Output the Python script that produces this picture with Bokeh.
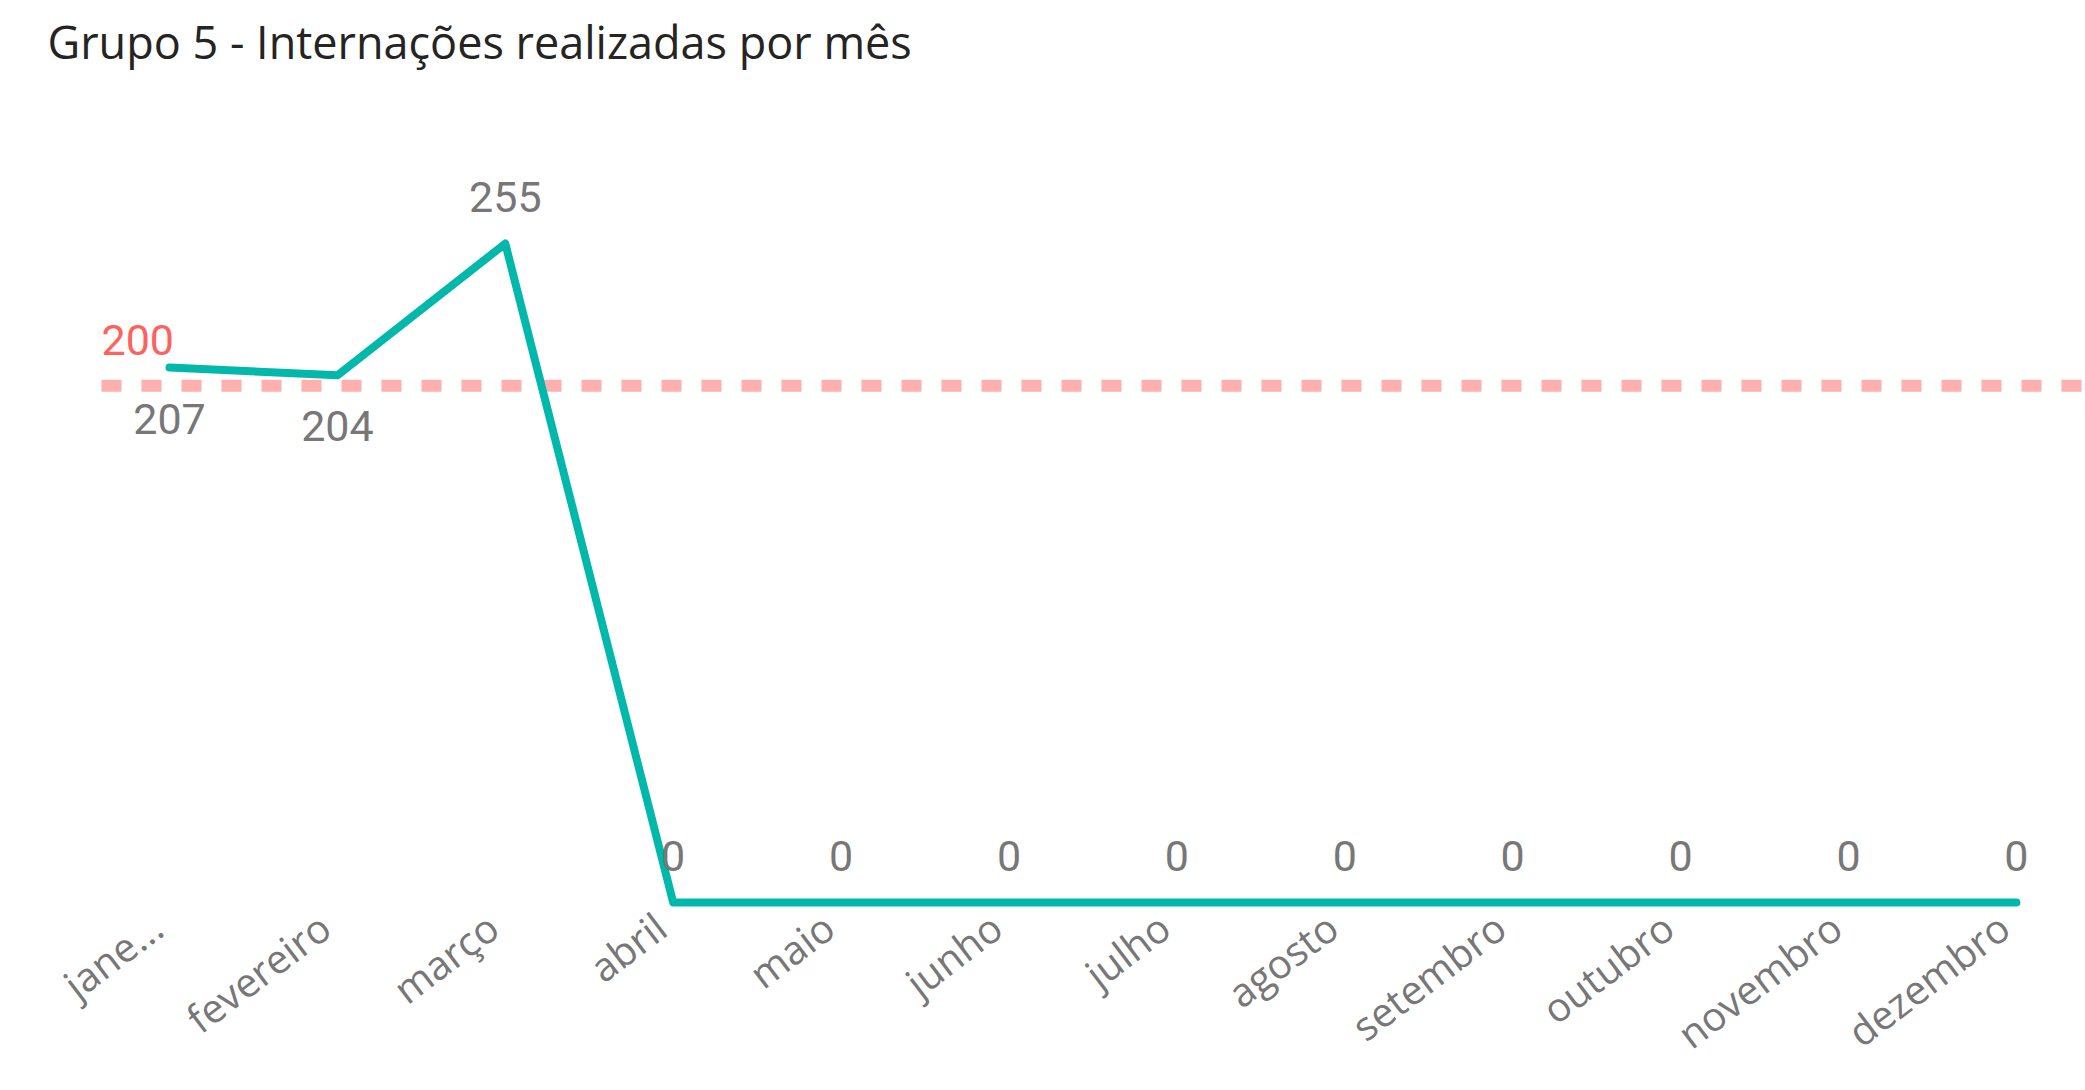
from bokeh.plotting import figure
from bokeh.models import ColumnDataSource, LabelSet, Label, Range1d, FixedTicker
from bokeh.core.properties import value
from bokeh.embed import file_html
from bokeh.resources import INLINE

# ---- data ----
months = ["janeiro", "fevereiro", "março", "abril", "maio", "junho",
          "julho", "agosto", "setembro", "outubro", "novembro", "dezembro"]
tick_labels = ["jane...", "fevereiro", "março", "abril", "maio", "junho",
               "julho", "agosto", "setembro", "outubro", "novembro", "dezembro"]
values = [207, 204, 255, 0, 0, 0, 0, 0, 0, 0, 0, 0]
target = 200
title_text = "Grupo 5 - Internações realizadas por mês"

W, H = 2085, 1090
idx = list(range(len(months)))
PX_PER_UNIT = 2.584   # vertical scale of the original
ZERO_PX = 902         # pixel row of the value 0
X0_PX, STEP_PX = 169, 167.9  # pixel column of first month, spacing


def xpx(px):
    return (px - X0_PX) / STEP_PX


def ypx(py):
    return (ZERO_PX - py) / PX_PER_UNIT


x_start, x_end = xpx(0), xpx(W)
p = figure(width=W, height=H, output_backend="svg", toolbar_location=None,
           title=None,
           x_range=Range1d(x_start, x_end),
           y_range=Range1d(ypx(908), ypx(0)),
           min_border_left=0, min_border_right=0, min_border_top=0,
           min_border_bottom=182)
p.outline_line_color = None
p.background_fill_color = "white"
p.border_fill_color = "white"
p.grid.visible = False
p.yaxis.visible = False

# title
p.add_layout(Label(x=xpx(47), y=ypx(41), text=title_text,
                   text_baseline="middle", text_align="left",
                   text_color="#252423", text_font="Open Sans",
                   text_font_size="45px"))

# x axis (labels anchored slightly left of each point, as in the original)
shift = 0.075
tick_pos = [i - shift for i in idx]
xa = p.xaxis[0]
xa.ticker = FixedTicker(ticks=tick_pos)
xa.major_label_overrides = {t: lab for t, lab in zip(tick_pos, tick_labels)}
xa.axis_line_color = None
xa.major_tick_line_color = None
xa.minor_tick_line_color = None
xa.major_label_orientation = 0.65
xa.major_label_standoff = 7
xa.major_label_text_font = "Open Sans"
xa.major_label_text_font_size = "40px"
xa.major_label_text_color = "#777777"

# target line (starts at the plot area's left edge)
line_left = xpx(101)
p.line([line_left, x_end], [target, target], line_color="#fdb0ae",
       line_width=12, line_dash="20 20")
p.add_layout(Label(x=line_left, y=target, text=str(target), y_offset=46,
                   text_color="#fd625e", text_font="Roboto", text_font_size="43px",
                   text_baseline="middle", text_align="left"))

# main line
src = ColumnDataSource(dict(x=idx, y=values))
p.line("x", "y", source=src, line_color="#01b8aa", line_width=8,
       line_cap="round", line_join="round")

# data labels
below = [0, 1]
above_idx = [i for i in idx if i not in below]
src_a = ColumnDataSource(dict(x=[idx[i] for i in above_idx],
                              y=[values[i] for i in above_idx],
                              lab=[str(values[i]) for i in above_idx]))
src_b = ColumnDataSource(dict(x=[idx[i] for i in below],
                              y=[values[i] for i in below],
                              lab=[str(values[i]) for i in below]))
for s, off in ((src_a, 47), (src_b, -51)):
    p.add_layout(LabelSet(x="x", y="y", text="lab", source=s, y_offset=off,
                          text_align="center", text_baseline="middle",
                          text_color="#777777", text_font=value("Roboto"),
                          text_font_size="43px"))

open("out.html", "w").write(file_html(p, INLINE))
